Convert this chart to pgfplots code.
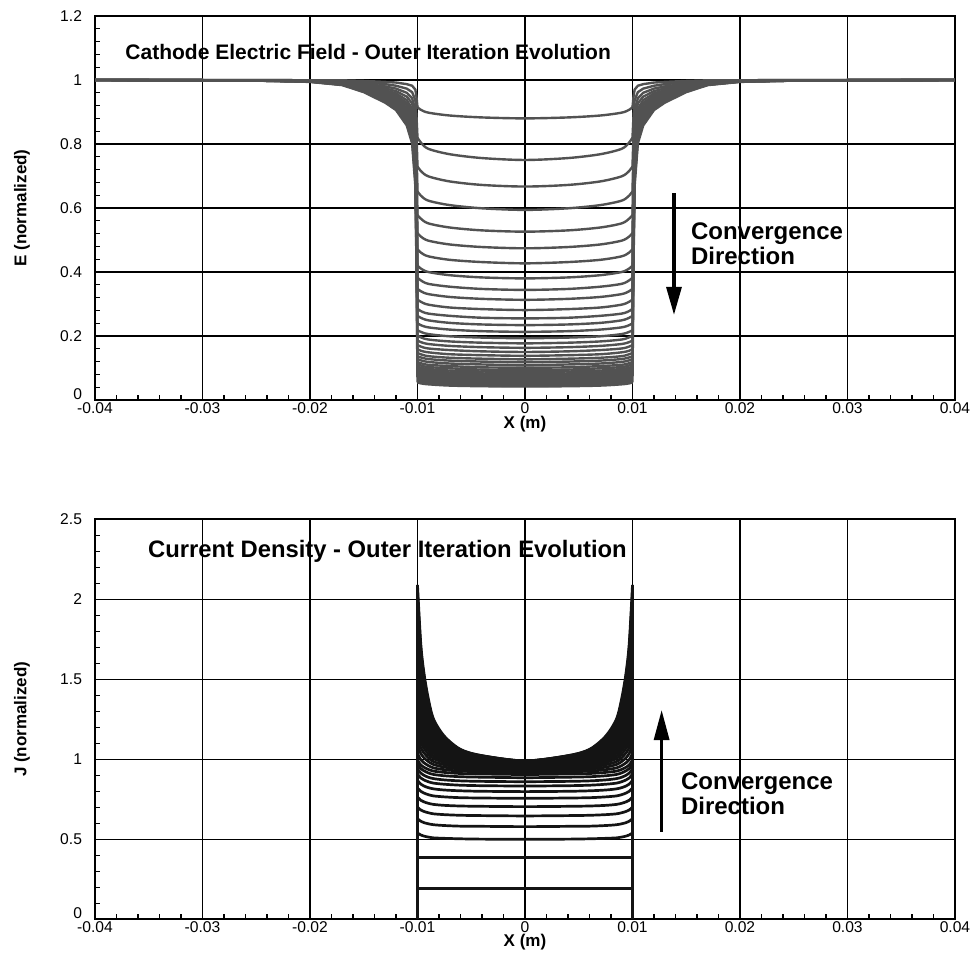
\documentclass[border=0pt]{standalone}
\usepackage{fontspec}
\setmainfont{Liberation Sans}
\usepackage{pgfplots}
\usepackage{pgfplotstable}
\pgfplotsset{compat=1.18}
\usetikzlibrary{arrows.meta}

\definecolor{egray}{gray}{0.32}
\definecolor{jblack}{gray}{0.08}

% E field, inner part: one column per outer iteration
\pgfplotstableread{
x c1 c2 c3 c4 c5 c6 c7 c8 c9 c10 c11 c12 c13 c14 c15 c16 c17 c18 c19 c20 c21 c22 c23 c24 c25 c26 c27 c28 c29 c30 c31 c32 c33 c34 c35 c36 c37 c38 c39 c40
-0.01 0.915 0.820 0.730 0.652 0.578 0.522 0.471 0.420 0.382 0.348 0.314 0.285 0.263 0.240 0.218 0.201 0.186 0.172 0.159 0.147 0.137 0.128 0.119 0.112 0.105 0.099 0.093 0.089 0.085 0.080 0.077 0.074 0.071 0.068 0.066 0.064 0.062 0.060 0.058 0.055
-0.0097 0.907 0.805 0.716 0.639 0.567 0.511 0.461 0.411 0.374 0.340 0.307 0.278 0.257 0.234 0.213 0.196 0.181 0.167 0.154 0.143 0.133 0.124 0.115 0.108 0.101 0.095 0.090 0.086 0.082 0.077 0.074 0.071 0.068 0.065 0.063 0.061 0.059 0.057 0.055 0.052
-0.009 0.898 0.785 0.699 0.623 0.552 0.498 0.449 0.400 0.363 0.331 0.298 0.270 0.249 0.227 0.206 0.189 0.175 0.161 0.149 0.137 0.128 0.119 0.110 0.103 0.097 0.091 0.085 0.081 0.077 0.073 0.070 0.067 0.064 0.061 0.059 0.057 0.055 0.053 0.051 0.049
-0.007 0.889 0.768 0.683 0.609 0.539 0.486 0.438 0.390 0.354 0.322 0.289 0.263 0.241 0.220 0.199 0.183 0.169 0.156 0.143 0.132 0.123 0.114 0.106 0.099 0.092 0.086 0.081 0.077 0.073 0.069 0.066 0.063 0.060 0.058 0.056 0.054 0.052 0.050 0.048 0.045
-0.004 0.883 0.756 0.672 0.599 0.530 0.478 0.431 0.383 0.347 0.316 0.284 0.257 0.236 0.215 0.195 0.179 0.165 0.152 0.140 0.129 0.120 0.111 0.102 0.095 0.089 0.083 0.078 0.074 0.070 0.066 0.063 0.060 0.057 0.055 0.053 0.051 0.049 0.047 0.045 0.043
0 0.880 0.750 0.667 0.594 0.526 0.474 0.427 0.380 0.344 0.313 0.281 0.255 0.234 0.213 0.193 0.177 0.163 0.150 0.138 0.127 0.118 0.109 0.101 0.094 0.088 0.082 0.077 0.073 0.069 0.065 0.062 0.059 0.056 0.054 0.052 0.050 0.048 0.046 0.044 0.042
0.004 0.883 0.756 0.672 0.599 0.530 0.478 0.431 0.383 0.347 0.316 0.284 0.257 0.236 0.215 0.195 0.179 0.165 0.152 0.140 0.129 0.120 0.111 0.102 0.095 0.089 0.083 0.078 0.074 0.070 0.066 0.063 0.060 0.057 0.055 0.053 0.051 0.049 0.047 0.045 0.043
0.007 0.889 0.768 0.683 0.609 0.539 0.486 0.438 0.390 0.354 0.322 0.289 0.263 0.241 0.220 0.199 0.183 0.169 0.156 0.143 0.132 0.123 0.114 0.106 0.099 0.092 0.086 0.081 0.077 0.073 0.069 0.066 0.063 0.060 0.058 0.056 0.054 0.052 0.050 0.048 0.045
0.009 0.898 0.785 0.699 0.623 0.552 0.498 0.449 0.400 0.363 0.331 0.298 0.270 0.249 0.227 0.206 0.189 0.175 0.161 0.149 0.137 0.128 0.119 0.110 0.103 0.097 0.091 0.085 0.081 0.077 0.073 0.070 0.067 0.064 0.061 0.059 0.057 0.055 0.053 0.051 0.049
0.0097 0.907 0.805 0.716 0.639 0.567 0.511 0.461 0.411 0.374 0.340 0.307 0.278 0.257 0.234 0.213 0.196 0.181 0.167 0.154 0.143 0.133 0.124 0.115 0.108 0.101 0.095 0.090 0.086 0.082 0.077 0.074 0.071 0.068 0.065 0.063 0.061 0.059 0.057 0.055 0.052
0.01 0.915 0.820 0.730 0.652 0.578 0.522 0.471 0.420 0.382 0.348 0.314 0.285 0.263 0.240 0.218 0.201 0.186 0.172 0.159 0.147 0.137 0.128 0.119 0.112 0.105 0.099 0.093 0.089 0.085 0.080 0.077 0.074 0.071 0.068 0.066 0.064 0.062 0.060 0.058 0.055
}\Eint

% E field, outer part for a subset of the iterations (x left side, xr right side)
\pgfplotstableread{
x xr o1 o2 o3 o4 o5 o6 o7 o8 o9 o10 o11 o12 o13 o14 o15 o16 o17 o18
-0.04 0.04 1 1 1 1 1 1 1 1 1 1 1 1 1 1 1 1 1 1
-0.025 0.025 1.000 1.000 0.999 0.999 0.999 0.999 0.999 0.999 0.999 0.999 0.999 0.999 0.999 0.998 0.998 0.998 0.998 0.998
-0.02 0.02 0.999 0.999 0.998 0.998 0.997 0.997 0.997 0.997 0.996 0.996 0.996 0.996 0.996 0.995 0.995 0.995 0.995 0.994
-0.017 0.017 0.999 0.997 0.995 0.994 0.993 0.992 0.991 0.990 0.989 0.989 0.988 0.988 0.987 0.987 0.986 0.985 0.985 0.984
-0.015 0.015 0.997 0.993 0.989 0.986 0.983 0.981 0.979 0.977 0.975 0.974 0.973 0.971 0.971 0.970 0.967 0.966 0.964 0.962
-0.013 0.013 0.994 0.987 0.980 0.974 0.968 0.964 0.960 0.957 0.954 0.951 0.949 0.946 0.945 0.943 0.939 0.936 0.933 0.929
-0.012 0.012 0.992 0.982 0.973 0.965 0.958 0.952 0.947 0.942 0.938 0.935 0.931 0.929 0.926 0.924 0.919 0.915 0.911 0.906
-0.011 0.011 0.987 0.973 0.960 0.948 0.937 0.928 0.921 0.913 0.907 0.902 0.897 0.893 0.889 0.886 0.878 0.872 0.866 0.858
-0.0105 0.0105 0.982 0.962 0.943 0.927 0.911 0.900 0.889 0.878 0.870 0.863 0.856 0.850 0.845 0.840 0.829 0.821 0.812 0.802
-0.0102 0.0102 0.970 0.937 0.906 0.878 0.852 0.833 0.815 0.797 0.784 0.772 0.760 0.750 0.742 0.734 0.715 0.701 0.687 0.669
-0.0101 0.0101 0.949 0.892 0.838 0.791 0.747 0.713 0.683 0.652 0.629 0.609 0.588 0.571 0.558 0.544 0.512 0.488 0.463 0.433
-0.01 0.01 0.915 0.820 0.730 0.652 0.578 0.522 0.471 0.420 0.382 0.348 0.314 0.285 0.263 0.240 0.186 0.147 0.105 0.055
}\Eout

% current density, one column per outer iteration
\pgfplotstableread{
x j1 j2 j3 j4 j5 j6 j7 j8 j9 j10 j11 j12 j13 j14 j15 j16 j17 j18 j19 j20 j21 j22 j23 j24 j25 j26 j27 j28 j29 j30 j31 j32 j33 j34 j35 j36
-0.01 0.194 0.388 0.540 0.629 0.701 0.764 0.821 0.868 0.908 0.940 0.970 0.995 1.038 1.091 1.142 1.193 1.242 1.291 1.339 1.385 1.432 1.477 1.523 1.568 1.612 1.657 1.700 1.744 1.788 1.831 1.875 1.917 1.961 2.004 2.047 2.090
-0.0097 0.194 0.388 0.527 0.613 0.683 0.744 0.800 0.845 0.883 0.914 0.942 0.965 0.998 1.037 1.074 1.111 1.146 1.181 1.215 1.247 1.280 1.311 1.343 1.374 1.404 1.435 1.464 1.494 1.523 1.553 1.582 1.610 1.640 1.669 1.698 1.727
-0.0094 0.194 0.388 0.520 0.604 0.674 0.734 0.789 0.833 0.871 0.900 0.928 0.950 0.978 1.010 1.040 1.069 1.097 1.125 1.151 1.176 1.202 1.226 1.250 1.274 1.297 1.320 1.342 1.365 1.387 1.409 1.432 1.453 1.475 1.497 1.519 1.540
-0.009 0.194 0.388 0.514 0.597 0.666 0.725 0.779 0.823 0.860 0.888 0.915 0.937 0.961 0.986 1.010 1.033 1.055 1.076 1.097 1.115 1.135 1.153 1.171 1.188 1.205 1.222 1.238 1.254 1.271 1.287 1.303 1.318 1.334 1.349 1.365 1.381
-0.0085 0.194 0.388 0.509 0.591 0.659 0.718 0.771 0.815 0.851 0.879 0.905 0.926 0.946 0.967 0.985 1.004 1.020 1.037 1.052 1.066 1.080 1.093 1.106 1.118 1.130 1.142 1.153 1.164 1.175 1.186 1.197 1.207 1.218 1.229 1.240 1.250
-0.0075 0.194 0.388 0.506 0.586 0.654 0.712 0.765 0.808 0.844 0.871 0.897 0.918 0.935 0.951 0.966 0.980 0.993 1.005 1.016 1.026 1.036 1.044 1.053 1.062 1.069 1.077 1.084 1.091 1.098 1.105 1.112 1.118 1.125 1.131 1.138 1.144
-0.006 0.194 0.388 0.503 0.582 0.650 0.708 0.760 0.803 0.838 0.865 0.891 0.911 0.926 0.939 0.950 0.961 0.971 0.980 0.987 0.994 1.001 1.007 1.013 1.017 1.022 1.027 1.030 1.034 1.038 1.042 1.046 1.048 1.052 1.055 1.059 1.062
-0.004 0.194 0.388 0.501 0.581 0.648 0.706 0.758 0.800 0.835 0.862 0.888 0.908 0.922 0.933 0.943 0.952 0.961 0.968 0.974 0.980 0.985 0.989 0.993 0.997 1.000 1.003 1.006 1.008 1.010 1.012 1.015 1.016 1.018 1.020 1.022 1.023
0 0.194 0.388 0.500 0.579 0.646 0.704 0.756 0.798 0.833 0.860 0.885 0.905 0.918 0.928 0.937 0.945 0.952 0.958 0.963 0.967 0.971 0.974 0.977 0.979 0.981 0.983 0.984 0.985 0.986 0.987 0.988 0.988 0.989 0.989 0.990 0.990
0.004 0.194 0.388 0.501 0.581 0.648 0.706 0.758 0.800 0.835 0.862 0.888 0.908 0.922 0.933 0.943 0.952 0.961 0.968 0.974 0.980 0.985 0.989 0.993 0.997 1.000 1.003 1.006 1.008 1.010 1.012 1.015 1.016 1.018 1.020 1.022 1.023
0.006 0.194 0.388 0.503 0.582 0.650 0.708 0.760 0.803 0.838 0.865 0.891 0.911 0.926 0.939 0.950 0.961 0.971 0.980 0.987 0.994 1.001 1.007 1.013 1.017 1.022 1.027 1.030 1.034 1.038 1.042 1.046 1.048 1.052 1.055 1.059 1.062
0.0075 0.194 0.388 0.506 0.586 0.654 0.712 0.765 0.808 0.844 0.871 0.897 0.918 0.935 0.951 0.966 0.980 0.993 1.005 1.016 1.026 1.036 1.044 1.053 1.062 1.069 1.077 1.084 1.091 1.098 1.105 1.112 1.118 1.125 1.131 1.138 1.144
0.0085 0.194 0.388 0.509 0.591 0.659 0.718 0.771 0.815 0.851 0.879 0.905 0.926 0.946 0.967 0.985 1.004 1.020 1.037 1.052 1.066 1.080 1.093 1.106 1.118 1.130 1.142 1.153 1.164 1.175 1.186 1.197 1.207 1.218 1.229 1.240 1.250
0.009 0.194 0.388 0.514 0.597 0.666 0.725 0.779 0.823 0.860 0.888 0.915 0.937 0.961 0.986 1.010 1.033 1.055 1.076 1.097 1.115 1.135 1.153 1.171 1.188 1.205 1.222 1.238 1.254 1.271 1.287 1.303 1.318 1.334 1.349 1.365 1.381
0.0094 0.194 0.388 0.520 0.604 0.674 0.734 0.789 0.833 0.871 0.900 0.928 0.950 0.978 1.010 1.040 1.069 1.097 1.125 1.151 1.176 1.202 1.226 1.250 1.274 1.297 1.320 1.342 1.365 1.387 1.409 1.432 1.453 1.475 1.497 1.519 1.540
0.0097 0.194 0.388 0.527 0.613 0.683 0.744 0.800 0.845 0.883 0.914 0.942 0.965 0.998 1.037 1.074 1.111 1.146 1.181 1.215 1.247 1.280 1.311 1.343 1.374 1.404 1.435 1.464 1.494 1.523 1.553 1.582 1.610 1.640 1.669 1.698 1.727
0.01 0.194 0.388 0.540 0.629 0.701 0.764 0.821 0.868 0.908 0.940 0.970 0.995 1.038 1.091 1.142 1.193 1.242 1.291 1.339 1.385 1.432 1.477 1.523 1.568 1.612 1.657 1.700 1.744 1.788 1.831 1.875 1.917 1.961 2.004 2.047 2.090
}\Jtab

\pgfplotsset{
  panel/.style={
    scale only axis, width=430pt, anchor=south west,
    xmin=-0.04, xmax=0.04,
    scaled x ticks=false, scaled y ticks=false,
    xtick={-0.04,-0.03,-0.02,-0.01,0,0.01,0.02,0.03,0.04},
    xticklabels={-0.04,-0.03,-0.02,-0.01,0,0.01,0.02,0.03,0.04},
    minor x tick num=4, minor y tick num=4,
    tick pos=left, tick align=inside,
    major tick length=4pt, minor tick length=2.5pt,
    grid=major, major grid style={black, line width=0.6pt},
    axis line style={line width=1.1pt},
    tick style={black, line width=0.6pt},
    tick label style={font=\fontsize{7.8}{8}\selectfont},
    xticklabel style={inner sep=1pt},
    yticklabel style={xshift=-3pt},
    label style={font=\fontsize{8.5}{10}\bfseries},
    ylabel style={at={(axis description cs:-0.085,0.5)}, anchor=center},
    xlabel={X (m)},
  },
}
\tikzset{
  ctitle/.style={anchor=west, inner sep=0pt, font=\fontsize{10.5}{12}\bfseries},
  cnote/.style={anchor=west, align=left, inner sep=0pt, font=\fontsize{12}{12.5}\bfseries},
}

\begin{document}
\begin{tikzpicture}
\begin{axis}[panel, at={(47.5pt,278.5pt)}, height=192pt,
    ymin=0, ymax=1.2,
    ytick={0,0.2,0.4,0.6,0.8,1,1.2},
    yticklabels={\raisebox{0.4pt}[0pt][0pt]{0},0.2,0.4,0.6,0.8,1,1.2},
    ylabel={E (normalized)},
    xlabel style={at={(axis description cs:0.5,-0.062)}, anchor=center},
]
\pgfplotsinvokeforeach{1,...,18}{
  \addplot[egray, line width=1.2pt] table[x=x, y=o#1] {\Eout};
  \addplot[egray, line width=1.2pt] table[x=xr, y=o#1] {\Eout};
}
\pgfplotsinvokeforeach{1,...,40}{
  \addplot[egray, line width=1.2pt, smooth] table[x=x, y=c#1] {\Eint};
}
\node[ctitle] at (axis cs:-0.0372,1.0875) {Cathode Electric Field - Outer Iteration Evolution};
\draw[line width=1.6pt, -{Triangle[length=14pt, width=7.5pt]}] (axis cs:0.01386,0.646) -- (axis cs:0.01386,0.266);
\node[cnote] at (axis cs:0.01541,0.487) {Convergence\\Direction};
\end{axis}

\begin{axis}[panel, at={(47.5pt,18.85pt)}, height=200pt,
    ymin=0, ymax=2.5,
    ytick={0,0.5,1,1.5,2,2.5},
    yticklabels={\raisebox{0.4pt}[0pt][0pt]{0},0.5,1,1.5,2,2.5},
    ylabel={J (normalized)},
    xlabel style={at={(axis description cs:0.5,-0.057)}, anchor=center},
]
\pgfplotsinvokeforeach{1,...,36}{
  \addplot[jblack, line width=1.35pt, smooth] table[x=x, y=j#1] {\Jtab};
}
\addplot[jblack, line width=1.4pt] coordinates {(-0.01,0) (-0.01,2.09)};
\addplot[jblack, line width=1.4pt] coordinates {(0.01,0) (0.01,2.09)};
\node[ctitle, font=\fontsize{11.9}{13}\bfseries] at (axis cs:-0.0351,2.297) {Current Density - Outer Iteration Evolution};
\draw[line width=1.6pt, -{Triangle[length=15pt, width=7.5pt]}] (axis cs:0.01271,0.547) -- (axis cs:0.01271,1.308);
\node[cnote] at (axis cs:0.01448,0.784) {Convergence\\Direction};
\end{axis}
\pgfresetboundingbox
\path[use as bounding box] (0,0) rectangle (485.5pt,478.5pt);
\end{tikzpicture}
\end{document}
